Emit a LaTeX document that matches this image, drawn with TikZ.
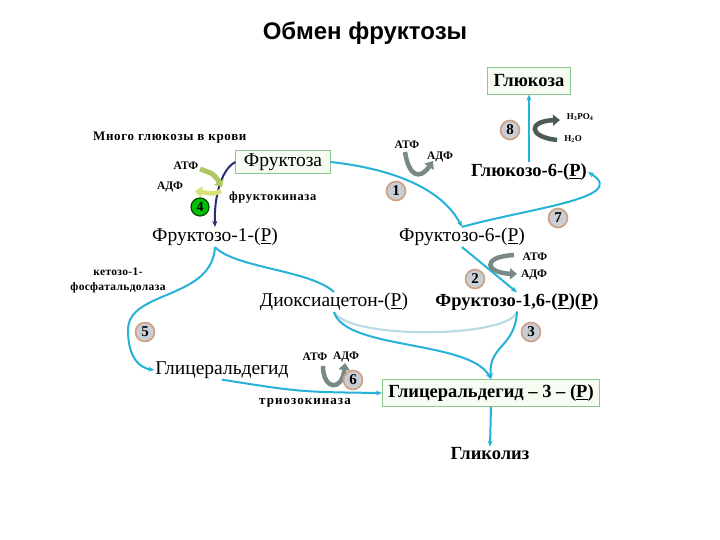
\documentclass[tikz,border=0pt]{standalone}
\usepackage{fontspec}
\setmainfont{Liberation Serif}
\newfontfamily\titlefont{Liberation Sans}
\usetikzlibrary{arrows.meta}
\definecolor{cyanl}{RGB}{38,178,214}
\definecolor{navyl}{RGB}{45,45,115}
\definecolor{boxdraw}{RGB}{140,200,140}
\definecolor{boxfill}{RGB}{246,252,242}
\definecolor{numfill}{RGB}{200,206,212}
\definecolor{numring}{RGB}{205,160,130}
\definecolor{fatgray}{RGB}{120,138,134}
\definecolor{fatdark}{RGB}{75,92,88}
\definecolor{fatgreen}{RGB}{175,200,100}
\definecolor{fatyel}{RGB}{215,225,120}
\tikzset{
  lab/.style={font=\fontsize{19.5}{21}\selectfont, inner sep=1pt},
  blab/.style={font=\bfseries\fontsize{18.5}{20}\selectfont, inner sep=1pt},
  box/.style={draw=boxdraw, fill=boxfill, line width=0.8pt},
  small/.style={font=\bfseries\fontsize{11.5}{13}\selectfont, inner sep=1pt},
  num/.style={circle, draw=numring, fill=numfill, line width=1.6pt, minimum size=19pt, inner sep=0pt, font=\bfseries\fontsize{15}{15}\selectfont},
  numg/.style={circle, draw=black!70!green, fill=green!75!black, line width=1.2pt, minimum size=18pt, inner sep=0pt, font=\bfseries\fontsize{14}{14}\selectfont},
  cy/.style={draw=cyanl, line width=2pt, -{Stealth[length=6pt,width=5pt]}},
  cyn/.style={draw=cyanl, line width=2pt},
  fat/.style={line width=4.5pt, -{Triangle[length=7pt,width=11pt]}},
}
\begin{document}
\begin{tikzpicture}[x=1pt,y=-1pt]
\useasboundingbox (0,0) rectangle (720,540);
% title
\node[font=\titlefont\bfseries\fontsize{24}{26}\selectfont] (title) at (365,33) {Обмен фруктозы};
% main nodes
\node[box, font=\bfseries\fontsize{18.5}{20}\selectfont, inner xsep=6pt, inner ysep=7pt] (glc) at (529,81) {Глюкоза};
\node[blab] (g6p) at (529,172) {Глюкозо-6-(\underline{P})};
\node[box, font=\fontsize{19.5}{21}\selectfont, inner xsep=8pt, inner ysep=3pt] (fru) at (283,162) {Фруктоза};
\node[lab] (f6p) at (462,237) {Фруктозо-6-(\underline{P})};
\node[lab] (f1p) at (215,237) {Фруктозо-1-(\underline{P})};
\node[lab] (dhap) at (334,302) {Диоксиацетон-(\underline{P})};
\node[blab] (f16p) at (517,302) {Фруктозо-1,6-(\underline{P})(\underline{P})};
\node[lab] (ga) at (222,370) {Глицеральдегид};
\node[box, font=\bfseries\fontsize{18.5}{20}\selectfont, inner xsep=6pt, inner ysep=5pt] (g3p) at (491,393) {Глицеральдегид – 3 – (\underline{P})};
\node[blab] (glyc) at (490,454) {Гликолиз};
% small labels
\node[anchor=west, inner sep=0pt, font=\bfseries\fontsize{13}{14}\selectfont\addfontfeature{LetterSpace=5}] (many) at (93,138) {Много глюкозы в крови};
\node[small, font=\bfseries\fontsize{9}{10}\selectfont] (h3po4) at (580,117) {H\textsubscript{3}PO\textsubscript{4}};
\node[small, font=\bfseries\fontsize{9}{10}\selectfont] (h2o) at (573,139) {H\textsubscript{2}O};
\node[small] (atp1) at (407,145) {АТФ};
\node[small] (adp1) at (440,157) {АДФ};
\node[small] (atp4) at (186,166) {АТФ};
\node[small] (adp4) at (170,187) {АДФ};
\node[anchor=west, inner sep=0pt, font=\bfseries\fontsize{12.5}{14}\selectfont\addfontfeature{LetterSpace=5}] (fk) at (229,198) {фруктокиназа};
\node[align=center, inner sep=0pt, font=\bfseries\fontsize{11.5}{15}\selectfont\addfontfeature{LetterSpace=3}] (ald) at (118,280) {кетозо-1-\\фосфатальдолаза};
\node[small] (atp2) at (535,257) {АТФ};
\node[small] (adp2) at (534,275) {АДФ};
\node[small] (atp6) at (315,357) {АТФ};
\node[small] (adp6) at (346,357) {АДФ};
\node[inner sep=0pt, font=\bfseries\fontsize{13}{14}\selectfont\addfontfeature{LetterSpace=8}] (tk) at (305,403) {триозокиназа};
% connectors
\draw[cy] (glc.south |- g6p.north) -- (glc.south);
\draw[cy] (fru.east) .. controls (385,168) and (440,185) .. (f6p.north);
\draw[cy] (f6p.north) .. controls (530,208) and (630,198) .. (g6p.east);
\draw[draw=navyl, line width=2pt, -{Stealth[length=6pt,width=5pt]}] (fru.west) .. controls (220,170) and (214,200) .. (f1p.north);
\draw[cyn] (f1p.south) .. controls (235,268) and (310,270) .. (dhap.north);
\draw[cy] (f1p.south) .. controls (212,300) and (128,290) .. (128,330) .. controls (128,358) and (140,368) .. (ga.west);
\draw[cy] (f6p.south) -- (f16p.north);
\draw[draw=gray!50!cyan!40, line width=2.2pt] (f16p.south) .. controls (510,338) and (350,340) .. (dhap.south);
\draw[cy] (dhap.south) .. controls (345,350) and (470,340) .. (g3p.north);
\draw[cy] (f16p.south) .. controls (515,348) and (488,345) .. (g3p.north);
\draw[cy] (ga.south) .. controls (300,392) .. (g3p.west);
\draw[cy] (g3p.south) -- (glyc.north);
% fat arrows
\draw[fat, fatdark] (557,140) .. controls (528,137) and (528,121) .. (560,120);
\draw[fat, fatgray] (405,152) .. controls (409,177) and (420,180) .. (433,161);
\draw[line width=5pt, fatgreen, -{Triangle[length=6pt,width=11pt]}] (200,169) .. controls (214,174) .. (222,187);
\draw[fat, fatyel] (221,191) .. controls (214,194) .. (195,191);
\draw[fat, fatgray] (514,255) .. controls (480,257) and (486,273) .. (517,274);
\draw[fat, fatgray] (323,366) .. controls (323,390) and (342,392) .. (345,363);
% numbers
\node[num] (n8) at (510,130) {8};
\node[num] (n1) at (396,191) {1};
\node[num] (n7) at (558,218) {7};
\node[numg] (n4) at (200,207) {4};
\node[num] (n2) at (475,279) {2};
\node[num] (n3) at (531,332) {3};
\node[num] (n5) at (145,332) {5};
\node[num] (n6) at (353,380) {6};
\end{tikzpicture}
\end{document}
